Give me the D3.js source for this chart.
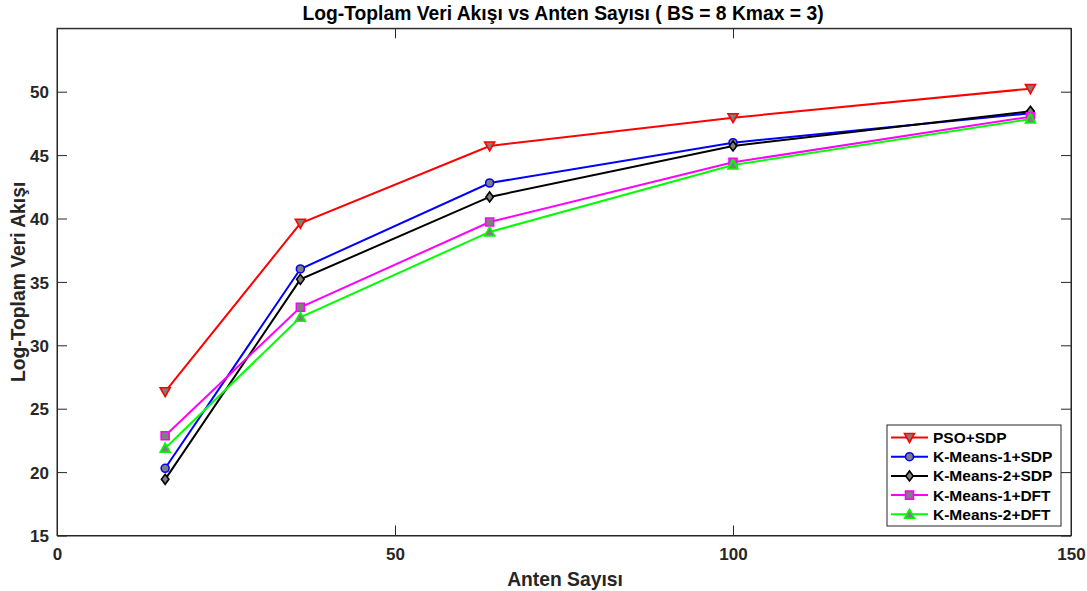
<!DOCTYPE html>
<html><head><meta charset="utf-8">
<script src="https://cdn.jsdelivr.net/npm/d3@7"></script>
<style>body{margin:0;background:#fff}svg{display:block}</style>
</head><body><svg id="c" width="1087" height="591"></svg>
<script>
const antennas = [16, 36, 64, 100, 144];
const seriesNames = ["PSO+SDP", "K-Means-1+SDP", "K-Means-2+SDP", "K-Means-1+DFT", "K-Means-2+DFT"];
const psoSdp   = [26.34, 39.62, 45.72, 47.95, 50.24];
const km1Sdp   = [20.30, 36.02, 42.80, 45.98, 48.30];
const km2Sdp   = [19.43, 35.20, 41.70, 45.72, 48.45];
const km1Dft   = [22.87, 33.00, 39.72, 44.43, 48.03];
const km2Dft   = [21.88, 32.21, 38.94, 44.22, 47.85];
const seriesColors = ["#ff0000", "#0000ff", "#000000", "#ff00ff", "#00ff00"];
const seriesMarkers = ["triDown", "circle", "diamond", "square", "triUp"];
const xTicks = [0, 50, 100, 150];
const yTicks = [15, 20, 25, 30, 35, 40, 45, 50];

const allSeries = [psoSdp, km1Sdp, km2Sdp, km1Dft, km2Dft];
const svg = d3.select("#c");
const L = 57, R = 1071, T = 28.3, B = 535.5;
const x = d3.scaleLinear().domain([0, 150]).range([L, R]);
const y = d3.scaleLinear().domain([15, 55]).range([B, T]);
const axisCol = "#262626";
const font = "'Liberation Sans', Arial, Helvetica, sans-serif";

// box
svg.append("rect").attr("x", L).attr("y", T).attr("width", R - L).attr("height", B - T)
  .attr("fill", "#fff").attr("stroke", axisCol).attr("stroke-width", 1);

// axes
const xa = svg.append("g").attr("transform", `translate(0,${B})`)
  .call(d3.axisBottom(x).tickValues(xTicks).tickSizeInner(-10).tickSizeOuter(0).tickPadding(8));
const ya = svg.append("g").attr("transform", `translate(${L},0)`)
  .call(d3.axisLeft(y).tickValues(yTicks).tickSizeInner(-10).tickSizeOuter(0).tickPadding(8));
svg.append("g").attr("transform", `translate(0,${T})`)
  .call(d3.axisTop(x).tickValues(xTicks).tickSizeInner(-10).tickSizeOuter(0).tickFormat(""));
svg.append("g").attr("transform", `translate(${R},0)`)
  .call(d3.axisRight(y).tickValues(yTicks).tickSizeInner(-10).tickSizeOuter(0).tickFormat(""));
svg.selectAll(".domain").attr("stroke", axisCol);
svg.selectAll(".tick line").attr("stroke", axisCol);
svg.selectAll(".tick text").attr("fill", axisCol).style("font-family", font)
  .style("font-size", "17px").style("font-weight", "bold");
xa.selectAll(".tick text").attr("y", 0).attr("dy", 0).attr("transform", "translate(0,24.5)");
ya.selectAll(".tick text").attr("dy", "0.36em");

// title & labels
svg.append("text").attr("x", 563).attr("y", 20).attr("text-anchor", "middle")
  .style("font-family", font).style("font-size", "19.3px").style("font-weight", "bold").attr("fill", "#000")
  .text("Log-Toplam Veri Akışı vs Anten Sayısı ( BS = 8 Kmax = 3)");
svg.append("text").attr("x", 565).attr("y", 586).attr("text-anchor", "middle")
  .style("font-family", font).style("font-size", "19.3px").style("font-weight", "bold").attr("fill", axisCol)
  .text("Anten Sayısı");
svg.append("text").attr("transform", `translate(25,${(T + B) / 2}) rotate(-90)`).attr("text-anchor", "middle")
  .style("font-family", font).style("font-size", "19.3px").style("font-weight", "bold").attr("fill", axisCol)
  .text("Log-Toplam Veri Akışı");

function markerPath(type) {
  const s = 5;
  switch (type) {
    case "triDown": return `M${-s},${-s*0.8}L${s},${-s*0.8}L0,${s}Z`;
    case "triUp": return `M${-s},${s*0.8}L${s},${s*0.8}L0,${-s}Z`;
    case "diamond": return `M0,${-s}L${s*0.75},0L0,${s}L${-s*0.75},0Z`;
    case "square": return `M${-s*0.8},${-s*0.8}H${s*0.8}V${s*0.8}H${-s*0.8}Z`;
    default: return d3.symbol(d3.symbolCircle, 50)();
  }
}

const line = d3.line().x((d, i) => x(antennas[i])).y(d => y(d));
allSeries.forEach((vals, k) => {
  svg.append("path").datum(vals).attr("d", line).attr("fill", "none")
    .attr("stroke", seriesColors[k]).attr("stroke-width", 2);
  svg.append("g").selectAll("path").data(vals).join("path")
    .attr("transform", (d, i) => `translate(${x(antennas[i])},${y(d)})`)
    .attr("d", markerPath(seriesMarkers[k]))
    .attr("fill", "#7f7f7f").attr("stroke", seriesColors[k]).attr("stroke-width", 1.6);
});

// legend
const lg = svg.append("g");
lg.append("rect").attr("x", 887).attr("y", 425).attr("width", 174).attr("height", 101)
  .attr("fill", "#fff").attr("stroke", axisCol).attr("stroke-width", 1);
seriesNames.forEach((n, k) => {
  const yy = 437.5 + k * 19.2;
  lg.append("line").attr("x1", 891).attr("x2", 928).attr("y1", yy).attr("y2", yy)
    .attr("stroke", seriesColors[k]).attr("stroke-width", 2);
  lg.append("path").attr("transform", `translate(909.5,${yy})`).attr("d", markerPath(seriesMarkers[k]))
    .attr("fill", "#7f7f7f").attr("stroke", seriesColors[k]).attr("stroke-width", 1.6);
  lg.append("text").attr("x", 933).attr("y", yy).attr("dy", "0.36em")
    .style("font-family", font).style("font-size", "15.5px").style("font-weight", "bold").attr("fill", "#000")
    .text(n);
});
</script></body></html>
